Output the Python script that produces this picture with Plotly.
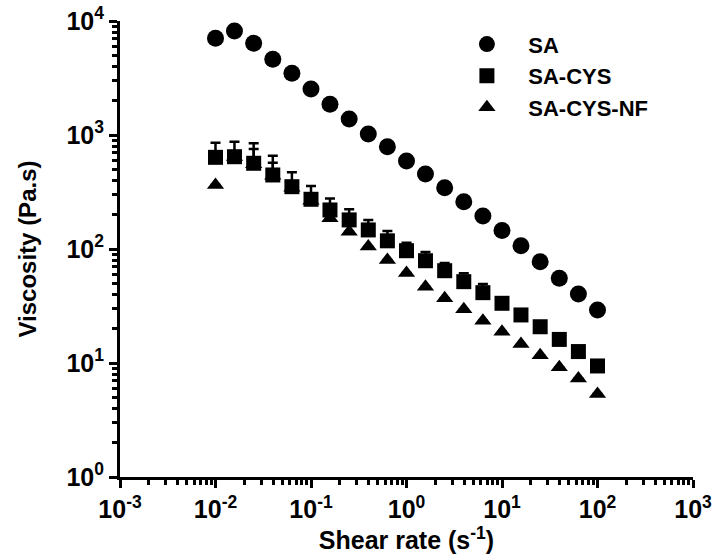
import plotly.graph_objects as go

shear_rate = [0.01, 0.0158, 0.0251, 0.0398, 0.0631, 0.1, 0.158, 0.251, 0.398, 0.631,
              1.0, 1.58, 2.51, 3.98, 6.31, 10.0, 15.8, 25.1, 39.8, 63.1, 100.0]
sa = [7050, 8170, 6370, 4610, 3480, 2530, 1860, 1380, 1020, 789,
      592, 455, 345, 260, 195, 145, 107, 77.4, 55.4, 40.3, 29.2]
sa_cys = [637, 645, 565, 446, 352, 273, 220, 180, 147, 118,
          96.6, 78.9, 64.5, 51.7, 41.4, 33.4, 26.4, 20.8, 16.1, 12.6, 9.42]
sa_cys_err = [220, 228, 280, 212, 119, 84, 57, 43, 33, 26,
              17, 15, 11, 9.5, 8, 0, 0, 0, 0, 0, 0]
sa_cys_nf = [364, 640, 555, 440, 345, 265, 186, 142, 105, 80.1,
             61.6, 46.7, 36.9, 29.6, 23.5, 18.8, 14.7, 11.7, 9.2, 7.3, 5.35]
sa_cys_nf_err = [0, 0, 200, 130, 0, 0, 0, 0, 0, 0,
                 0, 0, 0, 0, 0, 0, 0, 0, 0, 0, 0]

series_names = ["SA", "SA-CYS", "SA-CYS-NF"]

x_tickvals = [1e-3, 1e-2, 1e-1, 1, 10, 100, 1000]
x_ticktext = ["10<sup>-3</sup>", "10<sup>-2</sup>", "10<sup>-1</sup>", "10<sup>0</sup>",
              "10<sup>1</sup>", "10<sup>2</sup>", "10<sup>3</sup>"]
y_tickvals = [1, 10, 100, 1000, 10000]
y_ticktext = ["10<sup>0</sup>", "10<sup>1</sup>", "10<sup>2</sup>", "10<sup>3</sup>", "10<sup>4</sup>"]

FONT = "Liberation Sans, Arial, sans-serif"
PAD = "\u2004"

def minor_vals(lo, hi):
    out = []
    for e in range(lo, hi):
        for m in range(2, 10):
            out.append(m * 10 ** e)
    return out

fig = go.Figure()
fig.add_trace(go.Scatter(
    x=shear_rate, y=sa_cys_nf, mode="markers", name=PAD + series_names[2],
    legendrank=3, legendgroup="c",
    marker=dict(symbol="triangle-up", size=15, color="black"),
    error_y=dict(type="data", symmetric=False, array=sa_cys_nf_err,
                 arrayminus=[0] * len(sa_cys_nf_err), color="black", thickness=2.5, width=5),
))
fig.add_trace(go.Scatter(
    x=shear_rate, y=sa_cys, mode="markers", name=PAD + series_names[1],
    legendrank=2, legendgroup="b",
    marker=dict(symbol="square", size=15, color="black"),
    error_y=dict(type="data", symmetric=False, array=sa_cys_err,
                 arrayminus=[0] * len(sa_cys_err), color="black", thickness=2.5, width=5),
))
fig.add_trace(go.Scatter(
    x=shear_rate, y=sa, mode="markers", name=PAD + series_names[0],
    legendrank=1, legendgroup="a",
    marker=dict(symbol="circle", size=17, color="black"),
))

axis_common = dict(
    type="log",
    showgrid=False,
    zeroline=False,
    showline=True,
    linecolor="black",
    linewidth=3,
    ticks="outside",
    ticklen=8,
    tickwidth=3,
    tickcolor="black",
    tickfont=dict(family=FONT, size=25, color="black", weight="bold"),
)

fig.update_xaxes(
    **axis_common,
    automargin=False,
    range=[-3, 3],
    tickvals=x_tickvals, ticktext=x_ticktext,
    minor=dict(tickvals=minor_vals(-3, 3), ticks="outside", ticklen=5,
               tickwidth=2.5, tickcolor="black", showgrid=False),
    title=dict(text="Shear rate (s<sup>-1</sup>)",
               font=dict(family=FONT, size=25, color="black", weight="bold")),
)
fig.update_yaxes(
    **axis_common,
    automargin="left",
    range=[0, 4],
    tickvals=y_tickvals, ticktext=y_ticktext,
    minor=dict(tickvals=minor_vals(0, 4), ticks="outside", ticklen=5,
               tickwidth=2.5, tickcolor="black", showgrid=False),
    title=dict(text="Viscosity (Pa.s)", standoff=24,
               font=dict(family=FONT, size=24, color="black", weight="bold")),
)

fig.update_layout(
    width=714, height=554,
    margin=dict(l=120, r=21, t=21, b=77),
    paper_bgcolor="white",
    plot_bgcolor="white",
    showlegend=True,
    legend=dict(
        x=0.581, y=0.995, xanchor="left", yanchor="top",
        font=dict(family=FONT, size=22, color="black", weight="bold"),
        bgcolor="rgba(0,0,0,0)",
        tracegroupgap=0,
        itemwidth=58,
    ),
)

fig.write_html("out.html")
